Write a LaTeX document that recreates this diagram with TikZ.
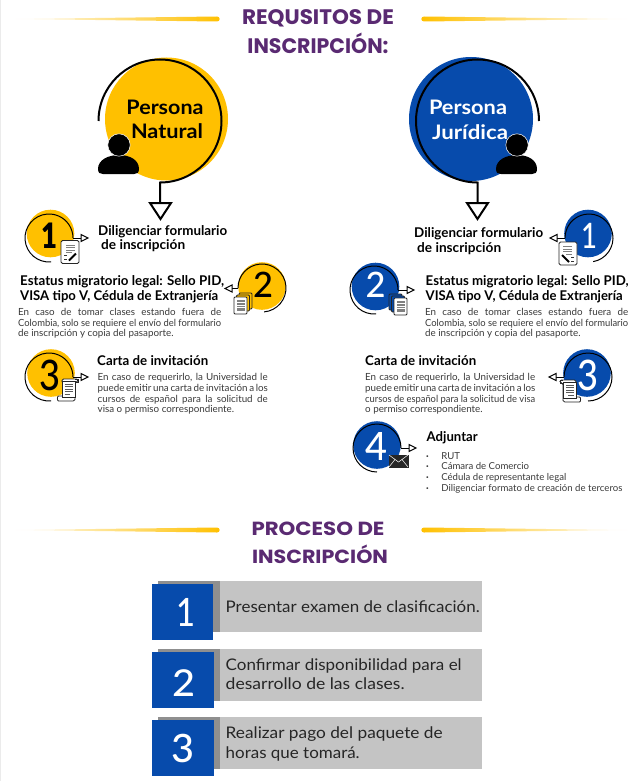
\documentclass[tikz,border=0pt]{standalone}
\usepackage{fontspec}
\usepackage{graphicx}
\setmainfont{Lato}
\newfontfamily\titlef{Poppins}
\newfontfamily\numf{Lato Medium}
\usetikzlibrary{calc}
\definecolor{gold}{HTML}{FFC000}
\definecolor{azul}{HTML}{074BAC}
\definecolor{morado}{HTML}{5A2A72}
\definecolor{cuerpo}{HTML}{3A3A3A}
\definecolor{grisclaro}{HTML}{C4C4C4}
\definecolor{grisosc}{HTML}{8F8F8F}
\newcommand\fw[2]{\resizebox{#1pt}{\height}{#2}}
\newcommand\jl[2]{\makebox[#1pt][s]{#2}}
\newcommand\dg[3]{{\fontsize{#1}{#1}\selectfont\fw{#2}{#3}}}
\tikzset{
  x=1pt,y=-1pt,
  titulo/.style={inner sep=0,anchor=center,text=morado,font=\titlef\bfseries\fontsize{21}{25}\selectfont},
  titulob/.style={inner sep=0,anchor=center,text=morado,font=\titlef\bfseries\fontsize{19}{23}\selectfont},
  cabeza/.style={inner sep=0,anchor=base west,text=black,font=\bfseries\fontsize{13.4}{15}\selectfont},
  parrafo/.style={inner sep=0,anchor=north west,align=left,text=cuerpo,font=\fontsize{9.8}{10.7}\selectfont},
  lista/.style={inner sep=0,anchor=north west,align=left,text=cuerpo,font=\fontsize{9.6}{10.9}\selectfont},
  grande/.style={inner sep=0,anchor=center,font=\bfseries\fontsize{20}{24}\selectfont},
  numero/.style={inner sep=0,anchor=center,font=\numf},
  numbox/.style={inner sep=0,anchor=center,text=white,font=\numf},
  paso/.style={inner sep=0,anchor=base west,text=black!85,font=\fontsize{16}{18}\selectfont},
  trazo/.style={draw=black,line width=1pt},
  trazog/.style={draw=black,line width=2pt},
  punta/.style={draw=black,fill=white,line width=1pt,line join=miter},
  puntag/.style={draw=black,fill=white,line width=2pt,line join=miter},
  hoja/.style={draw=black!85,fill=white,line width=.8pt,rounded corners=1pt}
}
% \badge{name}{fillx}{filly}{colour}{arcx}{arcy}{start}{end}{numcolour} at (x,y) {digit};
\newcommand\badge[9]{%
  \fill[#4] (#2,#3) circle[radius=23.8pt];
  \coordinate (#1c) at (#5,#6);
  \draw[trazo] ([shift={(#7:24pt)}]#1c) arc[start angle=#7,end angle=#8,radius=24pt] coordinate (#1e);
  \node[numero,text=#9] (#1n)}
% arrow stubs: \flecha{name}{x from}{x base}{x tip}{y}
\newcommand\flecha[5]{%
  \coordinate (#1a) at (#2,#5); \coordinate (#1b) at (#3,#5); \coordinate (#1t) at (#4,#5);
  \draw[trazo] (#1a) -- (#1b);
  \draw[punta] (#3,#5-3.5) -- (#1t) -- (#3,#5+3.5) -- cycle;}
\newcommand\persona[2]{%
  \begin{scope}[shift={(#1,#2)}]
  \fill[black] (-21,10) .. controls (-21,1) and (-11,-4) .. (0,-4) .. controls (11,-4) and (20,1) .. (20,10) .. controls (20,14) and (18,15) .. (15,15) -- (-16,15) .. controls (-19,15) and (-21,14) .. (-21,10) -- cycle;
  \draw[fill=black,draw=white,line width=.5pt] (0,-14) circle[radius=11.2pt];
  \end{scope}}
\newcommand\hojapluma[3]{%
  \begin{scope}[shift={(#1,#2)},xscale=#3]
  \draw[hoja,rounded corners=1.5pt] (0,0) rectangle (18,23);
  \draw[gray,line width=.8pt] (5,4.5) -- (14,4.5) (5,7) -- (14,7) (5,9.5) -- (14,9.5) (5,12) -- (11,12);
  \draw[black!80,line width=.8pt] (3,15) -- (6,15) (3,19) -- (6,19);
  \draw[black,line width=2pt] (8,20) -- (15,13);
  \end{scope}}
\newcommand\hojas[4]{%
  \begin{scope}[shift={(#1,#2)},xscale=#3]
  \draw[hoja,fill=#4] (5,0) rectangle (18,16);
  \draw[hoja,fill=#4] (2.5,2) rectangle (15.5,18);
  \draw[hoja] (0,4) rectangle (13,21);
  \fill[gray] (2.5,7) rectangle (10.5,18);
  \draw[white,line width=.35pt] (2.5,9.5) -- (10.5,9.5) (2.5,12) -- (10.5,12) (2.5,14.5) -- (10.5,14.5);
  \end{scope}}
\newcommand\rollo[3]{%
  \begin{scope}[shift={(#1,#2)},xscale=#3]
  \draw[hoja,rounded corners=1.5pt] (4,3) -- (4,0) -- (20,0) -- (20,3) -- (17,3) -- (17,19) .. controls (17,22) and (14,22) .. (13,22) -- (2,22) .. controls (-1,22) and (-1,17) .. (2,17) -- (13,17) -- (13,19);
  \draw[hoja,fill=none,rounded corners=1.5pt] (4,3) -- (17,3);
  \draw[hoja,fill=white,rounded corners=0pt] (4,2) -- (17,2) -- (17,18) -- (4,18) -- cycle;
  \draw[black!85,line width=.8pt] (17,0) -- (20,0) -- (20,3) -- (17,3);
  \draw[gray!70!black,line width=.8pt] (6.5,5) -- (14.5,5) (6.5,7.5) -- (14.5,7.5) (6.5,10) -- (14.5,10) (6.5,12.5) -- (14.5,12.5) (6.5,15) -- (12,15);
  \end{scope}}
\begin{document}
\begin{tikzpicture}
\useasboundingbox (0,0) rectangle (637,781);
\fill[white] (0,0) rectangle (637,781);
\fill[black!8] (0,0) rectangle (1,781);

% gold rules
\shade[left color=white,middle color=gold,right color=gold] (14,19) -- (217,16.5) .. controls (220.5,16.5) and (220.5,21.5) .. (217,21.5) -- cycle;
\shade[right color=white,middle color=gold,left color=gold] (628,19) -- (424,16.5) .. controls (420.5,16.5) and (420.5,21.5) .. (424,21.5) -- cycle;
\shade[left color=white,middle color=gold,right color=gold] (14,530) -- (217,527.5) .. controls (220.5,527.5) and (220.5,532.5) .. (217,532.5) -- cycle;
\shade[right color=white,middle color=gold,left color=gold] (628,530) -- (424,527.5) .. controls (420.5,527.5) and (420.5,532.5) .. (424,532.5) -- cycle;

% titles
\node[titulo] (t1) at (318,18) {\fw{152}{REQUSITOS DE}};
\node[titulo] (t2) at (318,43.5) {\fw{141}{INSCRIPCIÓN:}};
\node[titulob] (t3) at (318,529) {\fw{133}{PROCESO DE}};
\node[titulob] (t4) at (320,554.5) {\fw{136}{INSCRIPCIÓN}};

% Persona Natural
\fill[gold] (166.5,119) circle[radius=61.5pt];
\coordinate (nc) at (160,121);
\coordinate (nb) at (160,205);
\draw[trazog] ([shift={(180:61.5pt)}]nc) arc[start angle=180,end angle=-90,radius=61.5pt] -- (nb);
\draw[puntag] (150,203) -- (171,203) -- (160.5,219) -- cycle;
\persona{119}{159}
\node[grande,text=black] (pn1) at (165,107) {\fw{77}{Persona}};
\node[grande,text=black] (pn2) at (167,131) {\fw{72}{Natural}};

% Persona Juridica
\fill[azul] (471,119) circle[radius=62pt];
\coordinate (jc) at (477.5,121);
\coordinate (jb) at (477.5,205);
\draw[trazog] ([shift={(0:61.5pt)}]jc) arc[start angle=0,end angle=270,radius=61.5pt] -- (jb);
\draw[puntag] (467,203) -- (488,203) -- (477.5,219) -- cycle;
\node[grande,text=white] (pj1) at (468,107) {\fw{78}{Persona}};
\node[grande,text=white] (pj2) at (470,132) {\fw{76}{Jurídica}};
\persona{517}{159}

% left steps
\badge{a}{50.5}{233.5}{gold}{49}{238}{275}{0}{black} at (50,235.5) {\bfseries\dg{35}{16}{1}};
\flecha{fa}{73}{81}{88}{238}
\hojapluma{61}{240.5}{1}
\badge{b}{262}{286}{gold}{262}{288}{-85}{180}{black} at (263,285) {\dg{35}{20}{2}};
\flecha{fb}{238}{232}{225}{288.5}
\hojas{234}{293}{1}{gold}
\badge{c}{51}{373}{gold}{49}{377}{275}{0}{black} at (50,375) {\dg{42}{21}{3}};
\flecha{fc}{73}{81}{88}{377}
\rollo{58}{379}{1}

\node[cabeza] (l1) at (98,235) {\fw{129}{Diligenciar formulario}};
\node[cabeza] (l2) at (101,249.5) {\fw{84}{de inscripción}};
\node[cabeza] (l3) at (20,285.5) {\fw{204}{Estatus migratorio legal: Sello PID,}};
\node[cabeza] (l4) at (20,300) {\fw{198}{VISA tipo V, Cédula de Extranjería}};
\node[parrafo] (l5) at (18,308) {\jl{203}{En caso de tomar clases estando fuera de}\\\fw{203}{Colombia, solo se requiere el envío del formulario}\\de inscripción y copia del pasaporte.};
\node[cabeza] (l6) at (97,365.5) {\fw{111}{Carta de invitación}};
\node[parrafo] (l7) at (97.5,373.3) {\jl{170}{En caso de requerirlo, la Universidad le}\\\jl{170}{puede emitir una carta de invitación a los}\\\jl{170}{cursos de español para la solicitud de}\\visa o permiso correspondiente.};

% right steps
\badge{d}{588}{233.5}{azul}{589}{238}{-80}{180}{white} at (589,235.5) {\dg{35}{16}{1}};
\flecha{fd}{565}{557}{550}{238}
\hojapluma{577}{242}{-1}
\badge{e}{375.5}{286.5}{azul}{374}{290}{275}{0}{white} at (375.5,285) {\dg{35}{20}{2}};
\flecha{fe}{398}{407}{414}{290}
\hojas{407}{294}{-1}{azul}
\badge{f}{587}{373}{azul}{588}{377}{-90}{180}{white} at (587.5,375) {\dg{42}{21}{3}};
\flecha{ff}{564}{556}{549}{377}
\rollo{580}{380}{-1}
\badge{g}{377}{445}{azul}{377}{448}{270}{0}{white} at (376.5,446) {\dg{39}{22}{4}};
\flecha{fg}{401}{409}{416}{448}
\draw[black!85,fill=black!85,line width=.5pt] (389,455) rectangle (408,467);
\draw[white,line width=.5pt] (389,455) -- (398.5,462) -- (408,455) (389,467) -- (395,459.5) (408,467) -- (402,459.5);

\node[cabeza] (r1) at (414,237) {\fw{129}{Diligenciar formulario}};
\node[cabeza] (r2) at (417,252) {\fw{84}{de inscripción}};
\node[cabeza] (r3) at (425.5,285.5) {\fw{203}{Estatus migratorio legal: Sello PID,}};
\node[cabeza] (r4) at (425.5,300) {\fw{197}{VISA tipo V, Cédula de Extranjería}};
\node[parrafo] (r5) at (425,308) {\jl{203}{En caso de tomar clases estando fuera de}\\\fw{203}{Colombia, solo se requiere el envío del formulario}\\de inscripción y copia del pasaporte.};
\node[cabeza] (r6) at (365,365.5) {\fw{111}{Carta de invitación}};
\node[parrafo] (r7) at (365,373.3) {\jl{170}{En caso de requerirlo, la Universidad le}\\\jl{170}{puede emitir una carta de invitación a los}\\\fw{170}{cursos de español para la solicitud de visa}\\o permiso correspondiente.};
\node[cabeza] (r8) at (426.5,441.5) {\fw{51}{Adjuntar}};
\node[lista] (r9) at (426,452) {\textbf{·}\hspace{12.5pt}RUT\\\textbf{·}\hspace{12.5pt}Cámara de Comercio\\\textbf{·}\hspace{12.5pt}Cédula de representante legal\\\textbf{·}\hspace{12.5pt}Diligenciar formato de creación de terceros};

% process
\fill[grisclaro] (158,581) rectangle (482,632);
\fill[grisosc] (158,581) rectangle (220,632);
\fill[azul] (152,584) rectangle (213,640);
\node[numbox] (n1) at (185.5,612) {\dg{39}{19}{1}};
\node[paso] (p1) at (225.5,612) {\fw{254}{Presentar examen de clasificación.}};

\fill[grisclaro] (158,649) rectangle (482,701);
\fill[grisosc] (158,649) rectangle (220,701);
\fill[azul] (152,652) rectangle (214,708);
\node[numbox] (n2) at (183.5,683) {\dg{37}{23}{2}};
\node[paso] (p2a) at (225.5,670) {\fw{236}{Confirmar disponibilidad para el}};
\node[paso] (p2b) at (225.5,689) {\fw{179}{desarrollo de las clases.}};

\fill[grisclaro] (158,717) rectangle (482,769);
\fill[grisosc] (158,717) rectangle (220,769);
\fill[azul] (152,720) rectangle (214,776);
\node[numbox] (n3) at (183,748) {\dg{39}{23}{3}};
\node[paso] (p3a) at (225.5,738) {\fw{217}{Realizar pago del paquete de}};
\node[paso] (p3b) at (225.5,758) {\fw{134}{horas que tomará.}};
\end{tikzpicture}
\end{document}
